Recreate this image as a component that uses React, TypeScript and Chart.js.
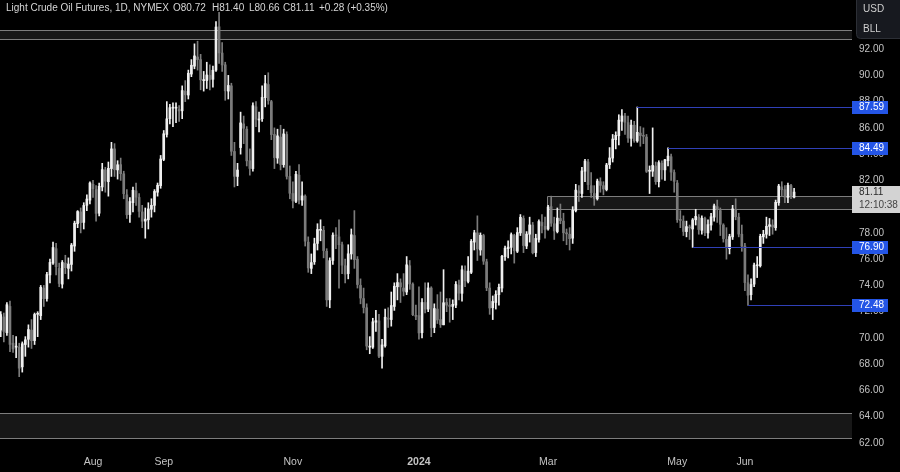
import React, { useEffect, useRef } from 'react';
import { Chart, registerables } from 'chart.js';

Chart.register(...registerables);

// ---------- data ----------
const startDate = '2023-06-16';
const endDate = '2024-06-26';
const holidays = ['2023-06-19', '2023-07-04', '2023-09-04', '2023-11-23', '2023-12-25', '2024-01-01', '2024-02-19', '2024-03-29', '2024-05-27', '2024-06-19'];

const opens = [
  70.60, 71.60, 70.40, 72.40, 69.60, 69.30, 69.30, 67.80, 69.50, 69.90,
  70.60, 69.80, 71.80, 71.70, 73.80, 73.00, 74.80, 75.70, 76.80, 75.30,
  74.10, 75.70, 75.30, 75.60, 77.00, 78.70, 79.60, 78.80, 80.10, 80.50,
  81.70, 81.30, 79.50, 81.50, 82.80, 81.90, 82.90, 84.40, 82.80, 83.20,
  82.50, 80.90, 79.40, 80.30, 81.20, 80.70, 79.60, 78.90, 79.00, 79.80,
  80.10, 81.10, 81.60, 83.60, 85.50, 86.70, 87.50, 87.50, 87.40, 87.30,
  88.80, 88.50, 90.10, 90.70, 91.40, 91.20, 89.60, 89.60, 90.00, 89.70,
  90.40, 93.70, 91.70, 90.80, 88.80, 89.20, 84.20, 82.30, 84.50, 86.30,
  85.90, 83.50, 82.90, 87.60, 86.60, 86.70, 88.30, 89.30, 88.00, 85.50,
  83.70, 85.30, 83.20, 85.50, 82.30, 81.00, 80.40, 82.40, 80.50, 80.80,
  77.30, 75.30, 75.80, 77.20, 78.20, 78.20, 76.60, 72.90, 75.90, 77.80,
  77.70, 77.10, 75.50, 74.90, 76.40, 77.80, 76.00, 74.00, 73.00, 72.30,
  69.30, 69.30, 71.20, 71.30, 68.60, 69.40, 71.50, 71.40, 72.40, 73.90,
  74.20, 73.80, 73.50, 75.50, 74.10, 71.70, 71.70, 70.40, 72.70, 72.20,
  73.80, 70.80, 72.20, 71.40, 71.00, 72.70, 72.50, 72.40, 72.50, 74.00,
  73.40, 75.10, 74.30, 75.00, 77.30, 78.00, 76.70, 77.80, 75.80, 73.80,
  72.30, 72.70, 73.30, 73.80, 76.20, 76.80, 76.90, 77.80, 76.60, 78.00,
  79.10, 77.00, 77.90, 78.60, 76.50, 77.50, 78.80, 78.50, 78.30, 80.00,
  78.70, 78.10, 79.10, 78.90, 78.00, 77.90, 77.60, 79.70, 81.20, 81.00,
  82.70, 83.40, 81.60, 81.00, 80.60, 81.90, 81.60, 81.30, 83.20, 83.70,
  85.10, 85.40, 86.50, 86.90, 86.40, 85.20, 86.20, 85.00, 85.60, 85.40,
  85.30, 82.70, 82.70, 83.10, 81.90, 83.30, 82.80, 83.50, 83.80, 82.60,
  81.80, 79.00, 78.90, 78.10, 78.40, 78.30, 79.00, 79.20, 78.20, 79.10,
  78.00, 78.60, 79.20, 80.00, 79.70, 78.60, 77.50, 76.80, 77.70, 79.80,
  79.20, 77.90, 77.00, 74.20, 73.30, 74.10, 75.50, 75.50, 77.70, 77.90,
  78.50, 78.60, 78.40, 80.30, 81.50, 81.30, 80.70, 81.60, 80.72,
];

const highs = [
  72.00, 71.90, 72.70, 72.80, 70.20, 70.10, 69.60, 69.70, 70.10, 71.00,
  71.40, 71.90, 72.00, 74.00, 74.00, 75.00, 76.00, 77.30, 77.20, 75.70,
  75.90, 76.30, 76.10, 77.20, 78.90, 79.70, 79.90, 80.30, 80.90, 81.90,
  82.00, 81.60, 81.80, 83.30, 83.00, 83.40, 84.90, 84.80, 83.50, 83.70,
  82.70, 81.30, 80.70, 81.50, 81.80, 81.00, 80.10, 79.90, 80.30, 80.60,
  81.30, 81.80, 83.90, 85.80, 88.00, 87.80, 87.90, 87.90, 87.70, 89.20,
  89.60, 90.40, 91.20, 92.40, 92.60, 91.60, 90.30, 91.00, 90.80, 90.70,
  94.10, 94.80, 92.50, 91.00, 90.00, 89.40, 84.90, 83.30, 87.20, 86.90,
  86.10, 84.40, 87.90, 88.00, 87.20, 89.20, 90.00, 90.20, 88.10, 86.00,
  85.90, 86.20, 85.90, 85.70, 83.10, 81.90, 82.70, 83.20, 81.90, 80.90,
  77.70, 76.40, 77.60, 78.70, 79.00, 78.50, 76.80, 76.10, 78.00, 78.40,
  79.00, 77.30, 76.00, 77.10, 78.30, 79.70, 76.20, 74.50, 73.80, 72.60,
  70.10, 71.50, 72.10, 71.80, 69.90, 72.20, 72.30, 73.50, 74.20, 74.90,
  74.50, 74.90, 76.20, 75.90, 74.20, 72.50, 73.90, 73.00, 74.20, 74.20,
  73.90, 72.60, 73.30, 73.50, 75.20, 73.00, 73.00, 72.90, 74.30, 74.40,
  75.50, 75.50, 76.20, 77.50, 78.20, 79.30, 78.00, 77.90, 76.00, 74.20,
  73.20, 73.60, 74.10, 76.30, 77.00, 77.40, 78.00, 77.90, 78.40, 79.40,
  79.30, 78.10, 79.20, 78.80, 77.90, 79.00, 79.40, 79.20, 80.10, 80.80,
  79.20, 79.90, 80.20, 79.50, 78.30, 78.40, 80.00, 81.70, 81.60, 83.00,
  83.60, 83.60, 82.60, 81.60, 82.10, 82.20, 81.90, 83.30, 84.50, 85.50,
  85.70, 87.00, 87.40, 87.10, 86.90, 86.60, 86.50, 87.59, 86.10, 86.00,
  85.50, 83.10, 86.00, 83.40, 83.50, 83.50, 83.60, 84.49, 84.00, 82.80,
  82.00, 79.70, 79.30, 78.90, 78.60, 79.10, 79.80, 79.40, 79.30, 79.20,
  79.00, 79.50, 80.20, 80.50, 79.90, 78.70, 78.40, 77.90, 80.10, 80.60,
  79.50, 78.60, 77.20, 74.80, 74.50, 75.70, 76.20, 77.90, 78.20, 79.20,
  79.10, 79.00, 80.50, 81.70, 81.90, 81.60, 81.80, 81.70, 81.40,
];

const lows = [
  70.10, 69.70, 70.20, 68.95, 68.90, 68.50, 67.05, 67.40, 68.60, 69.30,
  69.20, 69.50, 70.10, 71.40, 72.40, 72.80, 74.20, 75.60, 74.80, 73.90,
  73.80, 74.90, 74.50, 75.10, 76.60, 78.40, 78.00, 78.30, 79.70, 80.20,
  80.70, 78.90, 79.30, 81.20, 81.10, 80.80, 82.30, 82.30, 82.10, 82.00,
  80.60, 79.10, 78.80, 79.60, 80.10, 79.20, 78.40, 77.60, 78.30, 79.20,
  79.60, 80.80, 81.40, 83.50, 85.30, 86.30, 86.10, 86.40, 86.50, 86.70,
  88.00, 88.20, 89.90, 90.50, 90.40, 88.90, 88.80, 89.00, 88.90, 89.10,
  90.30, 90.90, 90.30, 88.10, 88.20, 83.90, 81.50, 81.60, 84.00, 84.80,
  83.10, 82.40, 82.70, 86.10, 85.70, 86.50, 87.60, 87.80, 85.10, 82.90,
  83.30, 82.80, 83.00, 82.10, 80.60, 79.90, 80.30, 80.20, 80.10, 77.00,
  75.00, 74.90, 75.60, 76.70, 77.40, 76.10, 72.40, 72.30, 75.60, 76.80,
  73.80, 74.90, 74.20, 74.50, 76.00, 75.30, 73.80, 72.60, 71.90, 69.10,
  68.80, 69.20, 70.50, 68.50, 67.70, 69.30, 70.80, 70.90, 72.10, 72.90,
  72.70, 73.20, 73.30, 73.70, 71.70, 71.40, 69.90, 70.00, 71.90, 72.00,
  70.10, 70.40, 71.10, 70.80, 71.00, 72.00, 71.20, 71.40, 72.30, 72.90,
  72.80, 73.90, 74.20, 74.90, 76.70, 75.90, 76.30, 75.60, 73.60, 71.80,
  71.40, 72.20, 72.50, 73.50, 75.90, 76.10, 76.40, 75.70, 76.50, 77.80,
  76.50, 76.80, 77.30, 76.40, 76.20, 77.30, 78.00, 77.60, 78.20, 78.50,
  77.50, 78.00, 78.70, 77.40, 77.10, 76.70, 77.20, 79.60, 80.40, 80.70,
  81.90, 81.30, 80.70, 80.10, 80.50, 81.10, 80.90, 81.20, 82.90, 83.40,
  84.40, 84.70, 85.80, 85.50, 84.90, 84.60, 84.90, 84.90, 84.60, 84.80,
  82.60, 81.00, 82.30, 81.70, 81.50, 82.10, 82.00, 83.10, 82.00, 81.10,
  78.80, 78.40, 77.80, 77.70, 77.50, 76.90, 78.60, 77.90, 77.90, 77.80,
  77.60, 78.20, 78.90, 78.80, 77.80, 77.30, 76.00, 76.40, 77.50, 79.00,
  77.70, 76.60, 73.60, 72.48, 72.90, 73.90, 74.60, 75.40, 77.20, 77.60,
  77.80, 77.90, 78.20, 80.10, 80.80, 80.30, 80.30, 80.60, 80.66,
];

const closes = [
  71.78, 70.50, 72.53, 69.51, 69.16, 69.37, 67.70, 69.56, 69.86, 70.64,
  69.79, 71.79, 71.80, 73.86, 72.99, 74.83, 75.75, 76.89, 75.42, 74.15,
  75.75, 75.35, 75.63, 77.07, 78.74, 79.63, 78.78, 80.09, 80.58, 81.80,
  81.37, 79.49, 81.55, 82.82, 81.94, 82.92, 84.40, 82.82, 83.19, 82.51,
  80.99, 79.38, 80.39, 81.25, 80.72, 79.64, 78.89, 79.05, 79.83, 80.10,
  81.16, 81.63, 83.63, 85.55, 86.69, 87.54, 87.51, 87.51, 87.29, 88.84,
  88.52, 90.16, 90.77, 91.48, 91.20, 89.66, 89.63, 90.03, 89.68, 90.39,
  93.68, 91.71, 90.79, 88.82, 89.23, 84.22, 82.31, 82.79, 86.38, 85.97,
  83.49, 82.91, 87.69, 86.66, 86.66, 88.32, 89.37, 88.08, 85.49, 83.74,
  85.39, 83.21, 85.54, 82.31, 81.02, 80.44, 82.46, 80.51, 80.82, 77.37,
  75.33, 75.74, 77.17, 78.26, 78.26, 76.66, 72.90, 75.89, 77.83, 77.77,
  77.10, 75.54, 74.86, 76.41, 77.86, 75.96, 74.07, 73.04, 72.32, 69.38,
  69.34, 71.23, 71.32, 68.61, 69.47, 71.58, 71.43, 72.47, 73.94, 74.22,
  73.89, 73.56, 75.57, 74.11, 71.77, 71.65, 70.38, 72.70, 72.19, 73.81,
  70.77, 72.24, 71.37, 71.02, 72.68, 72.50, 72.40, 72.56, 74.08, 73.41,
  75.19, 74.37, 75.09, 77.36, 78.01, 76.78, 77.82, 75.85, 73.82, 72.28,
  72.78, 73.31, 73.86, 76.22, 76.84, 76.92, 77.87, 76.64, 78.03, 79.19,
  77.04, 77.91, 78.61, 76.49, 77.58, 78.87, 78.54, 78.26, 79.97, 78.74,
  78.15, 79.13, 78.93, 78.01, 77.93, 77.56, 79.72, 81.26, 81.04, 82.72,
  83.47, 81.68, 81.07, 80.63, 81.95, 81.62, 81.35, 83.17, 83.71, 85.15,
  85.43, 86.59, 86.91, 86.43, 85.23, 86.21, 85.02, 85.66, 85.41, 85.36,
  82.69, 82.73, 83.14, 81.90, 83.36, 82.81, 83.57, 83.85, 82.63, 81.93,
  79.00, 78.95, 78.11, 78.48, 78.38, 78.99, 79.26, 78.26, 79.12, 78.02,
  78.63, 79.23, 80.06, 79.80, 78.66, 77.57, 76.87, 77.72, 79.83, 79.23,
  77.91, 76.99, 74.22, 73.25, 74.07, 75.55, 75.53, 77.74, 77.90, 78.50,
  78.62, 78.45, 80.33, 81.57, 81.29, 80.73, 81.63, 80.83, 81.11,
];

const yTicks = [62, 64, 66, 68, 70, 72, 74, 76, 78, 80, 82, 84, 86, 88, 90, 92];
const monthStarts = ['2023-08-01', '2023-09-01', '2023-11-01', '2024-01-02', '2024-03-01', '2024-05-01', '2024-06-03'];
const monthLabels = ['Aug', 'Sep', 'Nov', '2024', 'Mar', 'May', 'Jun'];

const levelPrices = [87.59, 84.49, 76.90, 72.48];
const levelStarts = ['2024-04-12', '2024-04-26', '2024-05-08', '2024-06-04'];

const zoneHighs = [93.45, 80.80, 64.28];
const zoneLows = [92.77, 79.82, 62.38];
const zoneStarts = ['', '2024-03-01', ''];

const lastPrice = 81.11;
const countdown = '12:10:38';
const legendTexts = ['Light Crude Oil Futures, 1D, NYMEX', 'O80.72', 'H81.40', 'L80.66', 'C81.11', '+0.28 (+0.35%)'];
const currencyTexts = ['USD', 'BLL'];

// ---------- helpers ----------
function tradingDays(): string[] {
  const out: string[] = [];
  const d = new Date(startDate + 'T00:00:00Z');
  const end = new Date(endDate + 'T00:00:00Z');
  while (d <= end) {
    const wd = d.getUTCDay();
    const s = d.toISOString().slice(0, 10);
    if (wd !== 0 && wd !== 6 && !holidays.includes(s)) out.push(s);
    d.setUTCDate(d.getUTCDate() + 1);
  }
  return out;
}

const FONT = "'Liberation Sans', Arial, sans-serif";
const UP = '#f0f0f0';
const DOWN = '#7b7b7b';
const TEXT = '#c4c4c4';

export default function App() {
  const ref = useRef<HTMLCanvasElement | null>(null);

  useEffect(() => {
    const canvas = ref.current;
    if (!canvas) return;
    const dates = tradingDays();
    const n = Math.min(dates.length, closes.length);
    const idx = Array.from({ length: n }, (_, i) => i);
    const colors = idx.map((i) => (closes[i] >= opens[i] ? UP : DOWN));
    const monthIdx = monthStarts.map((d) => dates.indexOf(d));

    const overlay = {
      id: 'overlay',
      beforeDraw(chart: any) {
        const { ctx } = chart;
        ctx.save();
        ctx.fillStyle = '#000000';
        ctx.fillRect(0, 0, chart.width, chart.height);
        ctx.restore();
      },
      beforeDatasetsDraw(chart: any) {
        const { ctx, chartArea, scales } = chart;
        const x = scales.x, y = scales.y;
        ctx.save();
        zoneHighs.forEach((hi, k) => {
          const y1 = Math.round(y.getPixelForValue(hi)) + 0.5;
          const y2 = Math.round(y.getPixelForValue(zoneLows[k])) + 0.5;
          const x1 = zoneStarts[k] ? Math.round(x.getPixelForValue(dates.indexOf(zoneStarts[k])) - 1.5) + 0.5 : chartArea.left;
          const x2 = chartArea.right;
          ctx.fillStyle = 'rgba(255,255,255,0.09)';
          ctx.fillRect(x1, y1, x2 - x1, y2 - y1);
          ctx.strokeStyle = '#7d7d7d';
          ctx.lineWidth = 1;
          ctx.beginPath();
          ctx.moveTo(x1, y1); ctx.lineTo(x2, y1);
          ctx.moveTo(x1, y2); ctx.lineTo(x2, y2);
          if (zoneStarts[k]) { ctx.moveTo(x1, y1); ctx.lineTo(x1, y2); }
          ctx.stroke();
        });
        ctx.restore();
      },
      afterDatasetsDraw(chart: any) {
        const { ctx, chartArea, scales } = chart;
        const x = scales.x, y = scales.y;
        ctx.save();
        ctx.strokeStyle = '#3040b8';
        ctx.lineWidth = 1;
        levelPrices.forEach((p, k) => {
          const py = Math.round(y.getPixelForValue(p)) + 0.5;
          const px = Math.round(x.getPixelForValue(dates.indexOf(levelStarts[k])));
          ctx.beginPath();
          ctx.moveTo(px, py);
          ctx.lineTo(chartArea.right, py);
          ctx.stroke();
        });
        ctx.restore();
      },
      afterDraw(chart: any) {
        const { ctx, chartArea, scales } = chart;
        const y = scales.y;
        const ax = chartArea.right;
        ctx.save();
        ctx.font = `10px ${FONT}`;
        ctx.textBaseline = 'middle';
        ctx.textAlign = 'left';
        // level labels
        levelPrices.forEach((p) => {
          const py = Math.round(y.getPixelForValue(p));
          ctx.fillStyle = '#2455e6';
          ctx.fillRect(ax, py - 6, 36, 13);
          ctx.fillStyle = '#ffffff';
          ctx.fillText(p.toFixed(2), ax + 7, py + 0.5);
        });
        // last price box
        const ly = Math.round(y.getPixelForValue(lastPrice));
        ctx.fillStyle = '#d3d3d3';
        ctx.fillRect(ax, ly - 6, chart.width - ax, 27);
        ctx.fillStyle = '#2a2a2a';
        ctx.fillText(lastPrice.toFixed(2), ax + 7, ly + 0.5);
        ctx.fillStyle = '#444444';
        ctx.fillText(countdown, ax + 7, ly + 13.5);
        // currency box
        ctx.fillStyle = '#17191f';
        ctx.strokeStyle = '#2c2f36';
        ctx.beginPath();
        const bx = ax + 4.5, bw = chart.width - bx + 2, bh = 38.5;
        ctx.moveTo(bx, -1);
        ctx.lineTo(bx, bh - 4);
        ctx.quadraticCurveTo(bx, bh, bx + 4, bh);
        ctx.lineTo(bx + bw, bh);
        ctx.lineTo(bx + bw, -1);
        ctx.closePath();
        ctx.fill();
        ctx.stroke();
        ctx.fillStyle = '#cfcfcf';
        ctx.fillText(currencyTexts[0], ax + 11, 9);
        ctx.fillText(currencyTexts[1], ax + 11, 29);
        // legend
        const lx = [6, 173, 212, 249, 283, 319];
        ctx.fillStyle = '#d6d6d6';
        ctx.font = `10px ${FONT}`;
        legendTexts.forEach((t, k) => ctx.fillText(t, lx[k], 8));
        ctx.restore();
      },
    };

    const chart = new Chart(canvas, {
      type: 'bar',
      data: {
        datasets: [
          {
            data: idx.map((i) => ({ x: i, y: [lows[i], highs[i]] })) as any,
            backgroundColor: colors,
            borderWidth: 0,
            barThickness: 1,
            grouped: false,
            order: 2,
          } as any,
          {
            data: idx.map((i) => ({ x: i, y: [opens[i], closes[i]] })) as any,
            backgroundColor: colors,
            borderWidth: 0,
            barThickness: 2,
            minBarLength: 1,
            grouped: false,
            order: 1,
          } as any,
        ],
      },
      options: {
        responsive: false,
        animation: false,
        layout: { padding: 0 },
        plugins: { legend: { display: false }, tooltip: { enabled: false } },
        scales: {
          x: {
            type: 'linear',
            offset: false,
            min: 30 - 93 / 3.075,
            max: 30 - 93 / 3.075 + 852 / 3.075,
            grid: { display: false, drawTicks: false },
            border: { display: false },
            afterBuildTicks: (scale: any) => {
              scale.ticks = monthIdx.map((v) => ({ value: v }));
            },
            afterFit: (scale: any) => {
              scale.height = 21;
              scale.paddingLeft = 0;
              scale.paddingRight = 0;
              scale.paddingTop = 0;
              scale.paddingBottom = 0;
            },
            ticks: {
              autoSkip: false,
              maxRotation: 0,
              padding: 5,
              color: TEXT,
              font: (c: any) => ({ family: FONT, size: 10.5, weight: monthLabels[c.index] === '2024' ? 'bold' : 'normal' }),
              callback: (_v: any, i: number) => monthLabels[i],
            },
          },
          y: {
            type: 'linear',
            position: 'right',
            beginAtZero: false,
            min: 62 - 8 / 13.13,
            max: 62 + 443 / 13.13,
            grid: { display: false, drawTicks: false },
            border: { display: false },
            afterBuildTicks: (scale: any) => {
              scale.ticks = yTicks.map((v) => ({ value: v }));
            },
            afterFit: (scale: any) => {
              scale.width = 48;
              scale.paddingLeft = 0;
              scale.paddingRight = 0;
              scale.paddingTop = 0;
              scale.paddingBottom = 0;
            },
            ticks: {
              padding: 7,
              color: TEXT,
              font: { family: FONT, size: 10 },
              callback: (v: any) => Number(v).toFixed(2),
            },
          },
        },
      } as any,
      plugins: [overlay],
    });

    return () => chart.destroy();
  }, []);

  return (
    <div style={{ position: 'fixed', left: 0, top: 0, width: 900, height: 472, background: '#000' }}>
      <canvas ref={ref} width={900} height={472} style={{ display: 'block' }} />
    </div>
  );
}
